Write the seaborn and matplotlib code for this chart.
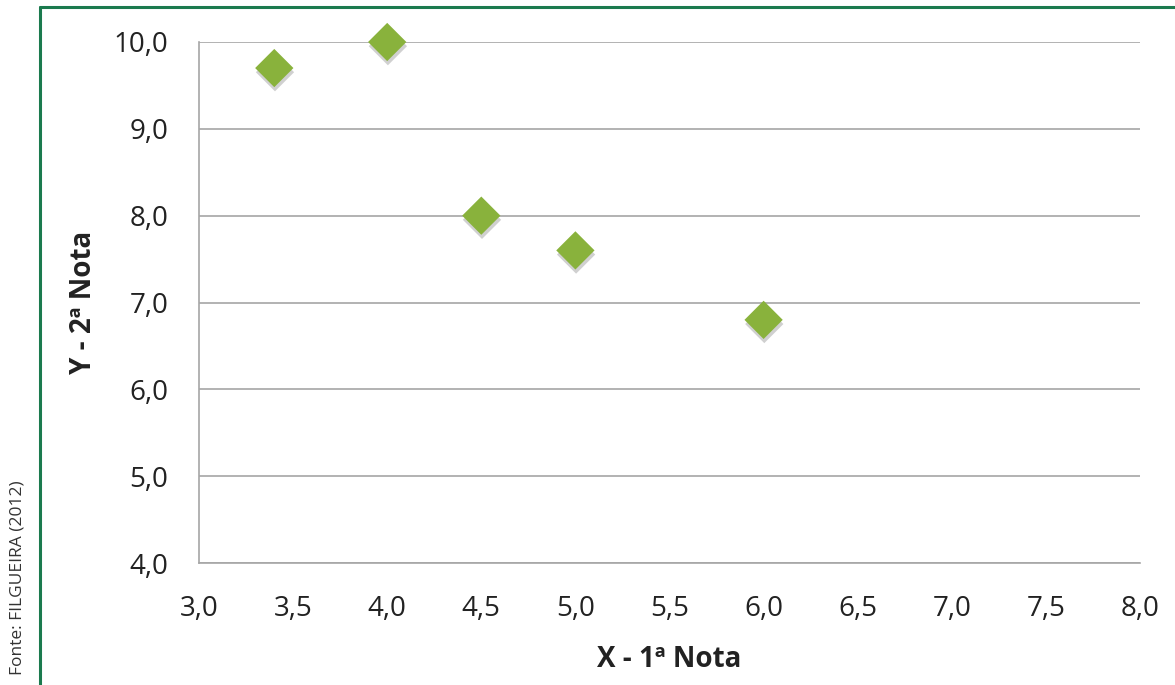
import matplotlib
matplotlib.use("Agg")
import matplotlib.pyplot as plt
import matplotlib.patheffects as pe
from matplotlib.lines import Line2D
from matplotlib.ticker import FuncFormatter, MultipleLocator
import seaborn as sns
import pandas as pd

# Grades of the students: first exam (X) and second exam (Y)
nota_1 = [3.4, 4.0, 4.5, 5.0, 6.0]
nota_2 = [9.7, 10.0, 8.0, 7.6, 6.8]

x_label = "X - 1ª Nota"
y_label = "Y - 2ª Nota"
fonte = "Fonte: FILGUEIRA (2012)"

df = pd.DataFrame({"x": nota_1, "y": nota_2})

sns.set_theme(style="white")
plt.rcParams["font.family"] = ["Open Sans", "DejaVu Sans"]

fig = plt.figure(figsize=(11.75, 6.85), dpi=100)
ax = fig.add_axes([199 / 1175, 122 / 685, 941 / 1175, 521 / 685])

ax.grid(axis="y", color="#a6a6a6", linewidth=1.2)
ax.set_axisbelow(True)

sns.scatterplot(
    data=df, x="x", y="y", ax=ax, marker="D", s=380,
    color="#89b23c", edgecolor="none", linewidth=0, zorder=3, clip_on=False,
)
for coll in ax.collections:
    coll.set_path_effects([
        pe.SimplePatchShadow(offset=(0.5, -3), shadow_rgbFace="#666666", alpha=0.3),
        pe.Normal(),
    ])

ax.set_xlim(3.0, 8.0)
ax.set_ylim(4.0, 10.0)
ax.xaxis.set_major_locator(MultipleLocator(0.5))
ax.yaxis.set_major_locator(MultipleLocator(1.0))
fmt = FuncFormatter(lambda v, _: f"{v:.1f}".replace(".", ","))
ax.xaxis.set_major_formatter(fmt)
ax.yaxis.set_major_formatter(fmt)
ax.tick_params(axis="both", length=0, labelsize=20, colors="#222222")
ax.tick_params(axis="y", pad=22)
ax.tick_params(axis="x", pad=23)

for side in ("top", "right"):
    ax.spines[side].set_visible(False)
for side in ("left", "bottom"):
    ax.spines[side].set_color("#a6a6a6")
    ax.spines[side].set_linewidth(1.2)

ax.set_xlabel(x_label, fontsize=20, fontweight="bold", color="#222222", labelpad=16)
ax.set_ylabel(y_label, fontsize=20, fontweight="bold", color="#222222", labelpad=11)

# Green frame around the figure (left and top edges)
frame_kw = dict(color="#1b7a4e", linewidth=2.2, transform=fig.transFigure)
fig.add_artist(Line2D([40 / 1175, 40 / 1175], [0, 1 - 7 / 685], **frame_kw))
fig.add_artist(Line2D([40 / 1175, 1], [1 - 7 / 685, 1 - 7 / 685], **frame_kw))

fig.text(18 / 1175, 10 / 685, fonte, rotation=90, ha="center", va="bottom",
         fontsize=12.5, color="#333333")

fig.savefig("out.png", dpi=100, facecolor="white")
